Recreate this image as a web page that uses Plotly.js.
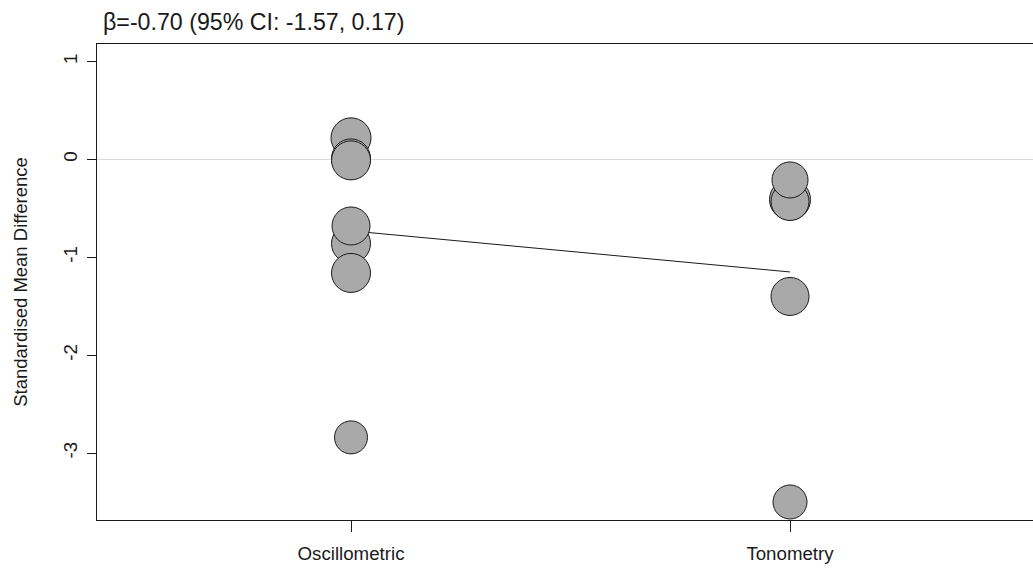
<!DOCTYPE html>
<html>
<head>
<meta charset="utf-8">
<script src="https://cdn.plot.ly/plotly-3.0.1.min.js"></script>
<style>
html,body{margin:0;padding:0;background:#fff;overflow:hidden;}
#chart{width:1033px;height:569px;}
</style>
</head>
<body>
<div id="chart"></div>
<script>
// Categories (x axis)
const categories = ['Oscillometric', 'Tonometry'];

// Study points: method, standardised mean difference, relative weight (bubble diameter)
const pointMethod = ['Oscillometric','Oscillometric','Oscillometric','Oscillometric','Oscillometric','Oscillometric','Oscillometric',
                     'Tonometry','Tonometry','Tonometry','Tonometry','Tonometry'];
const pointSMD    = [0.22, 0.01, -0.01, -0.86, -0.68, -1.16, -2.84,
                     -0.41, -0.43, -0.21, -1.40, -3.50];
const pointWeight = [40, 39, 39, 39, 38, 39, 33,
                     41, 38, 36, 38, 34];

// Meta-regression fitted line
const fitMethod = ['Oscillometric', 'Tonometry'];
const fitSMD    = [-0.73, -1.15];

// Axis ticks
const yTickVals = [-3, -2, -1, 0, 1];
const yTickText = ['-3', '-2', '-1', '0', '1'];

const titleText = 'β=-0.70 (95% CI: -1.57, 0.17)';
const yTitle = 'Standardised Mean Difference';

const FONT = 'Liberation Sans, Arial, sans-serif';
const INK = '#1a1a1a';

const traces = [
  {
    type: 'scatter', mode: 'lines',
    x: fitMethod, y: fitSMD,
    line: {color: INK, width: 1},
    hoverinfo: 'skip', showlegend: false
  },
  {
    type: 'scatter', mode: 'markers',
    x: pointMethod, y: pointSMD,
    marker: {size: pointWeight, color: '#a9a9a9', opacity: 1,
             line: {color: INK, width: 1}},
    showlegend: false
  }
];

const layout = {
  width: 1033, height: 569,
  margin: {l: 97, r: 0, t: 44, b: 49, pad: 0},
  paper_bgcolor: '#ffffff', plot_bgcolor: '#ffffff',
  font: {family: FONT, color: INK, size: 18.7},
  showlegend: false,
  title: {
    text: titleText,
    font: {family: FONT, size: 23.2, color: INK},
    xref: 'container', yref: 'container',
    x: 103/1033, xanchor: 'left',
    y: 1 - 22/569, yanchor: 'middle'
  },
  xaxis: {
    type: 'category',
    categoryorder: 'array', categoryarray: categories,
    range: [-0.5786, 1.5535],
    showline: true, linecolor: INK, linewidth: 1, mirror: true,
    ticks: 'outside', ticklen: 11, tickcolor: INK, tickwidth: 1,
    ticklabelstandoff: 6,
    showgrid: false, zeroline: false,
    tickfont: {family: FONT, size: 18.7, color: INK},
    fixedrange: true
  },
  yaxis: {
    range: [-3.684, 1.179],
    tickmode: 'array', tickvals: yTickVals, ticktext: yTickText,
    tickangle: -90,
    showline: true, linecolor: INK, linewidth: 1,
    ticks: 'outside', ticklen: 9, tickcolor: INK, tickwidth: 1,
    ticklabelstandoff: 3,
    showgrid: false,
    zeroline: true, zerolinecolor: '#dcdcdc', zerolinewidth: 1,
    tickfont: {family: FONT, size: 18.7, color: INK},
    title: {text: yTitle, font: {family: FONT, size: 18.5, color: INK}, standoff: 27},
    automargin: false,
    fixedrange: true
  }
};

Plotly.newPlot('chart', traces, layout, {displayModeBar: false, staticPlot: true});
</script>
</body>
</html>
